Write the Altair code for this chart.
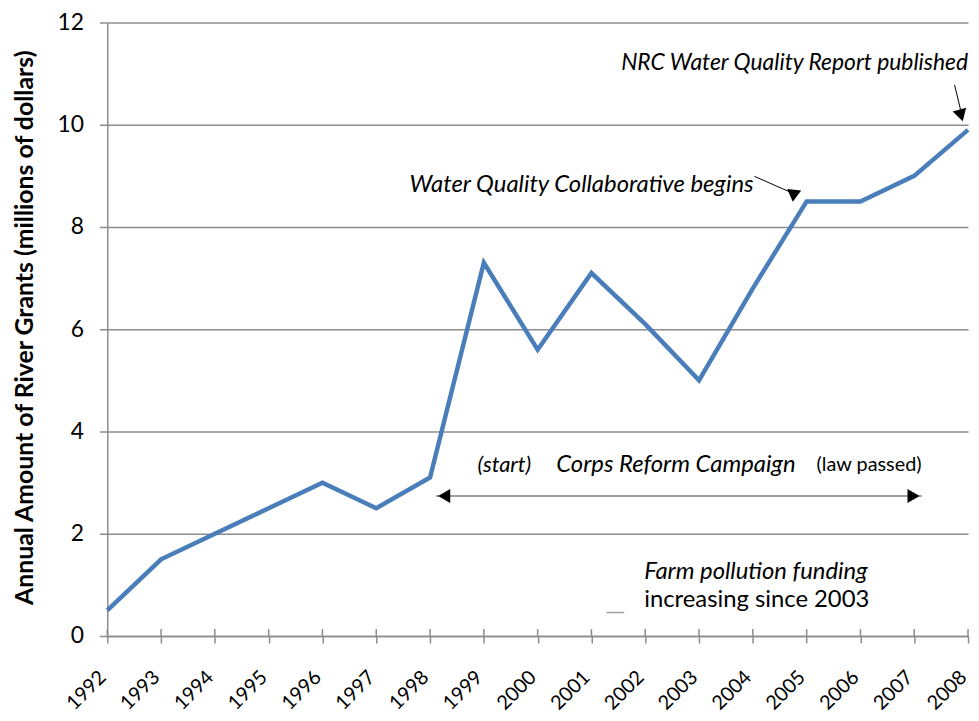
import altair as alt
import pandas as pd

years = list(range(1992, 2009))
grants = [0.5, 1.5, 2.0, 2.5, 3.0, 2.5, 3.1, 7.3, 5.6, 7.1, 6.1, 5.0, 6.8, 8.5, 8.5, 9.0, 9.9]
y_ticks = [0, 2, 4, 6, 8, 10, 12]

FONT = "Lato, sans-serif"
LINE_BLUE = "#4A7EBB"
GRID = "#8C8C8C"

df = pd.DataFrame({"year": years, "grants": grants})

xs = alt.Scale(domain=[1992, 2008], nice=False, zero=False)
ys = alt.Scale(domain=[0, 12], nice=False)

line = alt.Chart(df).mark_line(color=LINE_BLUE, strokeWidth=4.5, strokeJoin="miter").encode(
    x=alt.X("year:Q", scale=xs,
            axis=alt.Axis(values=years, format="d", labelAngle=-45, labelAlign="right",
                          labelBaseline="top", labelFontSize=20, labelFont=FONT, labelColor="#000",
                          grid=False, domainColor=GRID, domainWidth=1.5, tickColor=GRID,
                          tickWidth=1.5, tickSize=7, labelPadding=24, labelOffset=-12,
                          labelOverlap=False, title=None)),
    y=alt.Y("grants:Q", scale=ys,
            axis=alt.Axis(values=y_ticks, labelFontSize=23, labelFont=FONT,
                          labelColor="#000", gridColor=GRID, gridWidth=1.5, domainColor=GRID,
                          domainWidth=1.5, tickColor=GRID, tickWidth=1.5, tickSize=8,
                          labelPadding=16,
                          title="Annual Amount of River Grants (millions of dollars)",
                          titleFont=FONT, titleFontSize=25, titleFontWeight="bold",
                          titleColor="#000", titleX=-83, titleY=307, titleAngle=-90,
                          titleAlign="center", titleBaseline="middle")),
)

# short tick marks crossing above the x axis line
up_ticks = alt.Chart(pd.DataFrame({"year": years})).mark_rule(color=GRID, strokeWidth=1.5).encode(
    x=alt.X("year:Q", scale=xs), y=alt.value(618), y2=alt.value(611))

# annotation text
texts = pd.DataFrame({
    "x": [2008.0, 1997.62, 1999.38, 2002.57, 2006.16, 2001.98, 2001.98],
    "y": [11.21, 8.83, 3.34, 3.34, 3.34, 1.26, 0.70],
    "t": ["NRC Water Quality Report published", "Water Quality Collaborative begins",
          "(start)", "Corps Reform Campaign", "(law passed)",
          "Farm pollution funding", "increasing since 2003"],
    "align": ["right", "left", "center", "center", "center", "left", "left"],
    "style": ["italic", "italic", "italic", "italic", "normal", "italic", "normal"],
    "size": [23, 24, 22, 24, 20, 24, 24],
})

def txt(row):
    return alt.Chart(pd.DataFrame([row])).mark_text(
        align=row["align"], baseline="middle", font=FONT, fontStyle=row["style"],
        fontSize=row["size"], color="#000").encode(
        x=alt.X("x:Q", scale=xs), y=alt.Y("y:Q", scale=ys), text="t:N")

text_layers = [txt(r) for _, r in texts.iterrows()]

# arrow shafts
shafts = pd.DataFrame({
    "x": [2007.75, 2004.03, 1998.11, 2001.28],
    "x2": [2007.86, 2004.68, 2007.14, 2001.61],
    "y": [10.78, 8.99, 2.74, 0.46],
    "y2": [10.30, 8.69, 2.74, 0.46],
    "c": ["#000", "#000", "#A0A0A0", "#A0A0A0"],
    "w": [1, 1, 2, 1.5],
})
shaft_layer = alt.Chart(shafts).mark_rule().encode(
    x=alt.X("x:Q", scale=xs), x2="x2", y=alt.Y("y:Q", scale=ys), y2="y2",
    color=alt.Color("c:N", scale=None), strokeWidth=alt.StrokeWidth("w:Q", scale=None))

heads = pd.DataFrame({
    "x": [2007.86, 2004.76, 1998.30, 2006.95],
    "y": [10.22, 8.65, 2.74, 2.74],
    "a": [164, 67, 270, 90],
})
head_layer = alt.Chart(heads).mark_point(shape="triangle", filled=True, color="#000",
                                         opacity=1, size=200).encode(
    x=alt.X("x:Q", scale=xs), y=alt.Y("y:Q", scale=ys), angle=alt.Angle("a:Q", scale=None))

chart = alt.layer(line, up_ticks, shaft_layer, head_layer, *text_layers).properties(
    width=867, height=618,
    padding={"left": 100, "top": 12, "right": 3, "bottom": 83},
    autosize="none",
).configure_view(stroke=None)

chart.save("out.html", embed_options={"renderer": "svg", "actions": False})
